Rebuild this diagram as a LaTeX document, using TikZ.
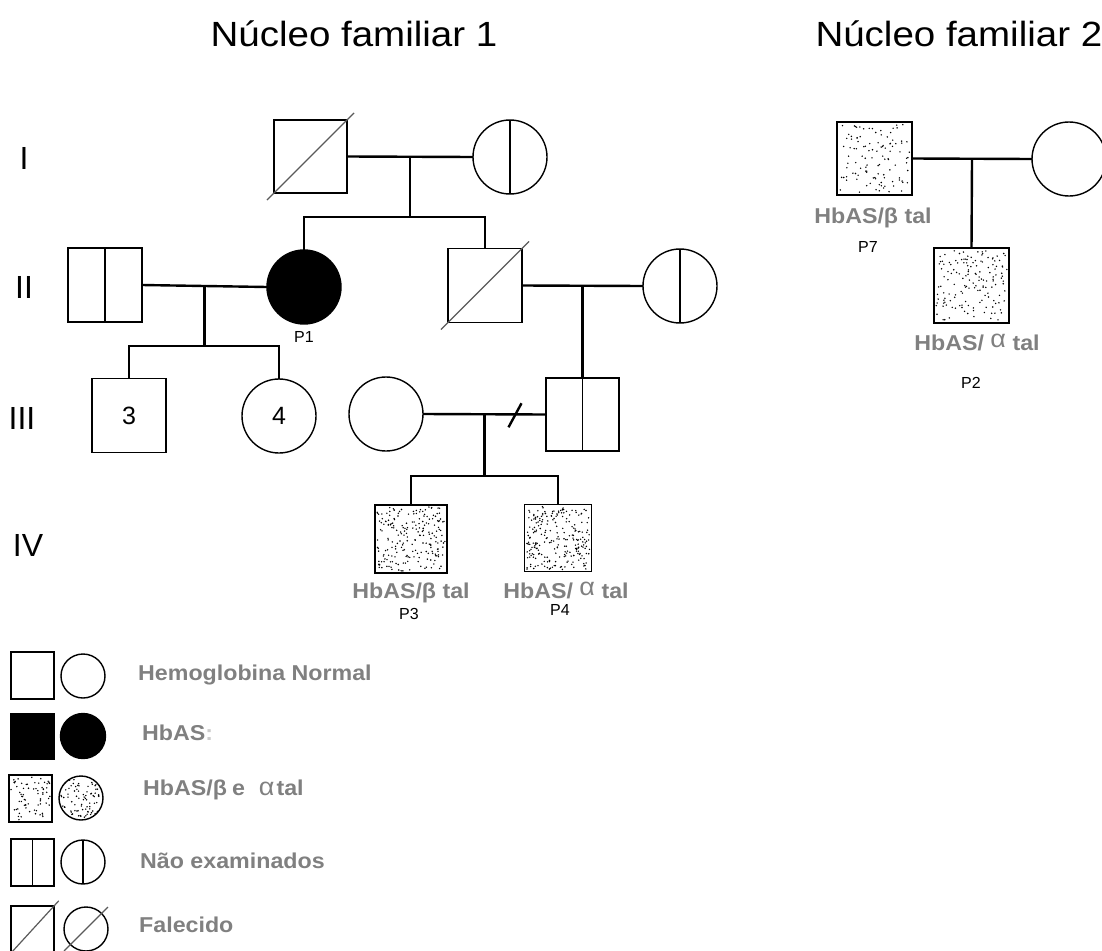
\documentclass[tikz,border=0pt]{standalone}
\usepackage{fontspec}
\setmainfont{Liberation Sans}
\newfontfamily\widefont[FakeStretch=1.08]{Liberation Sans}
\newfontfamily\titlewide[FakeStretch=1.1]{Liberation Sans}
\usetikzlibrary{calc}
\definecolor{labelgray}{RGB}{128,128,128}
\definecolor{deadgray}{RGB}{90,90,90}

\newcommand{\alphasym}{\raisebox{3pt}{\fontsize{25}{30}\selectfont\mdseries α}}

\tikzset{
  outline/.style={draw=black, line width=1.4pt, inner sep=0pt, outer sep=0pt},
  male/.style={outline, rectangle, minimum width=74pt, minimum height=74pt},
  female/.style={outline, circle, minimum size=74pt},
  rel/.style={line width=2.4pt},
  divline/.style={line width=1.3pt},
  deadline/.style={draw=deadgray, line width=1.2pt, shorten <=-10pt, shorten >=-10pt},
  % random stipple inside a node's outline
  stipple/.style={path picture={
      \path (path picture bounding box.south west) coordinate (pa)
            (path picture bounding box.north east) coordinate (pb);
      \foreach \k in {1,...,#1}{
        \fill let \p1=(pa), \p2=(pb) in
          ({\x1+2+rnd*(\x2-\x1-4)},{\y1+2+rnd*(\y2-\y1-4)}) circle[radius=0.8pt];
      }}},
  titlefont/.style={font=\titlewide\fontsize{35}{42}\selectfont},
  genfont/.style={font=\fontsize{32}{38}\selectfont},
  numfont/.style={font=\fontsize{25}{30}\selectfont},
  pfont/.style={font=\fontsize{16}{19}\selectfont, inner sep=0pt},
  genofont/.style={font=\widefont\fontsize{21.5}{26}\selectfont\bfseries, text=labelgray, inner sep=0pt},
  legtext/.style={font=\widefont\fontsize{21.5}{26}\selectfont\bfseries, text=labelgray, inner sep=0pt},
}

\begin{document}
\begin{tikzpicture}[x=1pt, y=-1pt]
\pgfmathsetseed{4711}
\useasboundingbox (0,0) rectangle (1102,950);

% ---- titles and generation numbers
\node[titlefont, anchor=base] (title1) at (354,47) {Núcleo familiar 1};
\node[titlefont, anchor=base west] (title2) at (812,47) {Núcleo familiar 2};
\node[genfont] (gI) at (24,158) {I};
\node[genfont] (gII) at (24,287) {II};
\node[genfont] (gIII) at (22,418) {III};
\node[genfont] (gIV) at (28,545) {IV};

% ---- family 1
\node[male, minimum width=73pt, minimum height=73pt] (I1) at (310.5,156.5) {};
\node[female] (I2) at (510,157) {};

\node[male] (II1) at (105,285) {};
\node[female, fill=black] (II2) at (304,287) {};
\node[male] (II3) at (485,285.5) {};
\node[female] (II4) at (680,286) {};

\node[male, numfont] (III1) at (129,415.5) {3};
\node[female, numfont] (III2) at (279,416) {4};
\node[female] (III3) at (386,414) {};
\node[male, minimum width=73pt, minimum height=73pt] (III4) at (582.5,414.5) {};

\node[male, minimum width=72pt, minimum height=68pt, stipple=210] (IV1) at (411,539) {};
\node[male, minimum width=67pt, minimum height=67pt, stipple=240] (IV2) at (558,538) {};

% markers: not examined
\draw[divline] (I2.north) -- (I2.south);
\draw[divline] (II1.north) -- (II1.south);
\draw[divline] (II4.north) -- (II4.south);
\draw[divline] (III4.north) -- (III4.south);
% markers: deceased
\draw[deadline] (I1.south west) -- (I1.north east);
\draw[deadline] (II3.south west) -- (II3.north east);

% couples and sibships
\draw[rel] (I1.east) -- coordinate[midway] (mI) (I2.west);
\coordinate (sI) at ($(mI)+(0,60)$);
\draw[rel] (mI) -- (sI);
\draw[rel] (II2.north) |- (sI) -| (II3.north);

\draw[rel] (II1.east) -- coordinate[midway] (mII) (II2.west);
\coordinate (sII) at ($(mII)+(0,60)$);
\draw[rel] (mII) -- (sII);
\draw[rel] (III1.north) |- (sII) -| (III2.north);

\draw[rel] (II3.east) -- coordinate[midway] (mIIb) (II4.west);
\draw[rel] (mIIb) -- (III4.north);

\draw[rel] (III3.east) -- coordinate[midway] (mIII) (III4.west);
\draw[rel] ($(mIII)+(24,13)$) -- ($(mIII)+(37,-11)$);
\coordinate (sIII) at ($(mIII)+(0,62)$);
\draw[rel] (mIII) -- (sIII);
\draw[rel] (IV1.north) |- (sIII) -| (IV2.north);

% labels
\node[pfont] (p1) at (304,337) {P1};
\node[genofont, anchor=base] (g3) at (411,598) {HbAS/β tal};
\node[pfont] (p3) at (409,614) {P3};
\node[genofont, anchor=base] (g4) at (566,598) {HbAS/ \alphasym\ tal};
\node[pfont] (p4) at (560,610) {P4};

% ---- family 2
\node[male, minimum width=75pt, minimum height=73pt, stipple=110] (F1) at (874.5,158.5) {};
\node[female] (F2) at (1069,159) {};
\node[male, minimum width=75pt, minimum height=75pt, stipple=150] (F3) at (971.5,285.5) {};
\draw[rel] (F1.east) -- coordinate[midway] (mF) (F2.west);
\draw[rel] (mF) -- (F3.north);
\node[genofont, anchor=base] (g7) at (873,223) {HbAS/β tal};
\node[pfont] (p7) at (868,247) {P7};
\node[genofont, anchor=base] (g2) at (977,350) {HbAS/ \alphasym\ tal};
\node[pfont] (p2) at (971,383) {P2};

% ---- legend
\node[male, minimum width=43pt, minimum height=47pt] (L1a) at (32.5,675.5) {};
\node[female, minimum size=44pt] (L1b) at (83,676) {};
\node[male, minimum width=43pt, minimum height=45pt, fill=black] (L2a) at (32.5,736.5) {};
\node[female, minimum size=45pt, fill=black] (L2b) at (83,736) {};
\node[male, minimum width=43pt, minimum height=47pt, stipple=70] (L3a) at (30.5,798.5) {};
\node[female, minimum size=44pt, stipple=90] (L3b) at (81,798) {};
\node[male, minimum width=43pt, minimum height=47pt] (L4a) at (32.5,862.5) {};
\node[female, minimum size=44pt] (L4b) at (83,862) {};
\node[male, minimum width=43pt, minimum height=47pt] (L5a) at (32.5,929.5) {};
\node[female, minimum size=44pt] (L5b) at (86,929) {};
\draw[divline] (L4a.north) -- (L4a.south);
\draw[divline] (L4b.north) -- (L4b.south);
\draw[deadline, shorten <=0pt, shorten >=-7pt] (L5a.south west) -- (L5a.north east);
\draw[deadline, shorten <=-9pt, shorten >=-9pt] (L5b.south west) -- (L5b.north east);

\node[legtext, anchor=base west] (T1) at (138,680) {Hemoglobina Normal};
\node[legtext, anchor=base west] (T2) at (142,740) {HbAS\textcolor{black!20}{:}};
\node[legtext, anchor=base west] (T3) at (143,795) {HbAS/β\hspace{5pt}e\hspace{14pt}{\fontsize{25}{30}\selectfont\mdseries α}\hspace{2pt}tal};
\node[legtext, anchor=base west] (T4) at (140,868) {Não examinados};
\node[legtext, anchor=base west] (T5) at (139,932) {Falecido};
\end{tikzpicture}
\end{document}
